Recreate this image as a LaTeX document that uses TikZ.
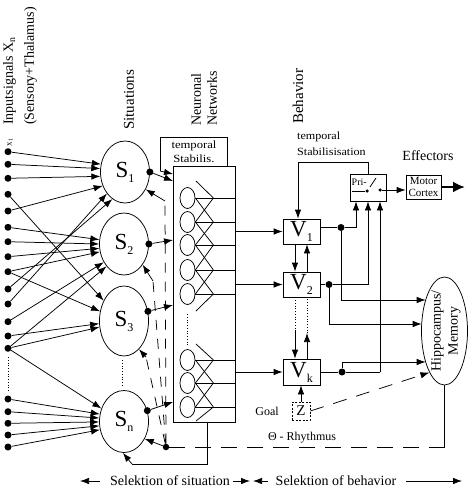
\documentclass[tikz,border=0pt]{standalone}
\usepackage{fontspec}
\setmainfont{Liberation Serif}
\usetikzlibrary{shapes.geometric,arrows.meta,calc}
\newcommand\sublbl[2]{#1\raisebox{-5pt}{\fontsize{12}{12}\selectfont #2}}
\begin{document}
\begin{tikzpicture}[x=1pt,y=-1pt,
  ln/.style={line width=0.75pt},
  arr/.style={ln,-{Latex[length=9pt,width=6.5pt]}},
  dotn/.style={circle,fill,inner sep=0pt,minimum size=7pt},
  sdot/.style={circle,fill,inner sep=0pt,minimum size=7pt},
  smalldot/.style={circle,fill,inner sep=0pt,minimum size=3.5pt},
  sit/.style={ellipse,draw,ln,inner sep=0pt,minimum width=49pt,minimum height=62pt,font=\fontsize{23}{23}\selectfont},
  neur/.style={ellipse,draw,ln,inner sep=0pt,minimum width=15pt,minimum height=21pt},
  vbox/.style={draw,ln,inner sep=0pt,minimum width=37pt,minimum height=25pt,font=\fontsize{23}{23}\selectfont},
  lab/.style={font=\fontsize{14}{17}\selectfont,inner sep=0pt},
  fbdash/.style={ln,dash pattern=on 10pt off 9pt},
  thdash/.style={ln,dash pattern=on 16pt off 10pt},
]
\useasboundingbox (0,0) rectangle (473,490);

% ---- labels on top
\node[rotate=90,anchor=west,align=left,inner sep=0pt,font=\fontsize{14}{21}\selectfont] (inp) at (20,125) {Inputsignals X\textsubscript{n}\\(Sensory+Thalamus)};
\node[rotate=90,inner sep=0pt,font=\fontsize{9}{9}\selectfont] (x1l) at (10,142) {x\textsubscript{1}};
\node[rotate=90,anchor=west,inner sep=0pt,font=\fontsize{15}{17}\selectfont] (sitl) at (129,130) {Situations};
\node[rotate=90,anchor=west,align=left,inner sep=0pt,font=\fontsize{14}{16}\selectfont] (nnl) at (204,126) {Neuronal\\Networks};
\node[rotate=90,anchor=west,inner sep=0pt,font=\fontsize{15}{17}\selectfont] (behl) at (298,124) {Behavior};

% ---- input dots
\foreach \i/\y in {1/151.7,2/164.3,3/178.3,4/194.3,5/211,6/227.3,7/241.7,8/256.7,9/271.7,10/289,11/304,12/321.7,13/336,14/348.3,15/399,16/411.7,17/423.3,18/435,19/447}
  \node[dotn] (x\i) at (8,\y) {};
\draw[ln,dotted] (8,357) -- (8,392);

% ---- situations
\node[sit] (s1) at (125,172) {\sublbl{S}{1}};
\node[sit] (s2) at (124,244) {\sublbl{S}{2}};
\node[sit,minimum height=70pt] (s3) at (124,321) {\sublbl{S}{3}};
\node[sit] (sn) at (124,421.5) {\sublbl{S}{n}};
\draw[ln,dotted] (122,360) -- (122,386);

\foreach \a/\b in {1/s1.162,2/s1.172,3/s1.190,5/s1.212,10/s1.245,11/s1.230,
                   6/s2.170,7/s2.180,8/s2.190,9/s2.198,12/s2.222,14/s2.232,
                   4/s3.135,9/s3.158,13/s3.186,14/s3.194,
                   14/sn.150,15/sn.163,16/sn.172,17/sn.181,18/sn.190,19/sn.199}
  \draw[arr] (x\a) -- (\b);

% ---- neuronal network box
\node[draw,ln,inner sep=0pt,minimum width=62pt,minimum height=256pt] (net) at (204,294) {};
\foreach \i/\y in {1/198,2/222,3/245,4/270,5/294,6/360,7/383,8/407}{
  \node[neur] (n\i) at (187.5,\y) {};
  \draw[ln] (n\i.east) -- (net.east |- n\i.east);
}
\foreach \i/\j in {1/2,2/3,3/4,4/5,6/7,7/8}{
  \draw[ln] (n\i.east) -- ($(n\j.east)+(18,0)$);
  \draw[ln] (n\j.east) -- ($(n\i.east)+(18,0)$);
}
\draw[ln] (196,181) -- ($(n1.east)+(18,0)$);
\draw[ln] (196,311) -- ($(n5.east)+(18,0)$);
\draw[ln] (196,344) -- ($(n6.east)+(18,0)$);
\draw[ln] (196,421) -- ($(n8.east)+(18,0)$);
\draw[ln,dotted] (187.5,314) -- (187.5,345);

% ---- temporal stabilisation of network
\coordinate (tsA) at (227,166);
\coordinate (tsB) at (227,137);
\coordinate (tsC) at (160,137);
\coordinate (tsD) at (160,171);
\coordinate (tsE) at (173,174);
\draw[ln] (tsA) -- (tsB) -- (tsC) -- (tsD);
\draw[arr] (tsD) -- (tsE);
\node[align=center,inner sep=0pt,font=\fontsize{11}{14}\selectfont] (tstxt) at (194,152) {\scalebox{1.15}[1]{temporal}\\\scalebox{1.15}[1]{Stabilis.}};

% ---- situation outputs
\node[sdot] (d1) at (s1.0) {};
\node[sdot] (d2) at (s2.0) {};
\node[sdot] (d3) at (s3.22) {};
\node[sdot] (d4) at (sn.25) {};
\coordinate (e1) at (173,181);
\coordinate (e2) at (173,240);
\coordinate (e3) at (173,305);
\coordinate (e4) at (173,402);
\draw[arr] (d1) -- (e1);
\draw[arr] (d2) -- (e2);
\draw[arr] (d3) -- (e3);
\draw[arr] (d4) -- (e4);

% ---- theta rhythm feedback
\node[sdot,minimum size=6.5pt] (th) at (166,447) {};
\coordinate (c1) at (165,201);
\coordinate (c2) at (153,281);
\coordinate (c3) at (146,357);
\draw[fbdash] (th) -- (c1);
\draw[arr] (c1) -- (s1.-40);
\draw[fbdash] (th) -- (c2);
\draw[arr] (c2) -- (s2.-48);
\draw[fbdash] (th) -- (c3);
\draw[arr] (c3) -- (s3.-62);
\draw[arr] (th) -- (sn.-40);

\coordinate (lb) at (132,464);
\draw[ln] ([xshift=3pt]net.south) |- (lb);
\draw[arr] (lb) -- (sn.268);

% ---- behaviour boxes
\node[vbox] (v1) at (301.5,231.5) {\sublbl{V}{1}};
\node[vbox] (v2) at (301.5,284.5) {\sublbl{V}{2}};
\node[vbox,minimum height=26pt] (vk) at (301.5,372) {\sublbl{V}{k}};
\draw[arr] (v1.west -| net.east) -- (v1.west);
\draw[arr] (v2.west -| net.east) -- (v2.west);
\draw[arr] (vk.west -| net.east) -- (vk.west);

\draw[arr] ([xshift=-6.5pt]v1.south) -- ([xshift=-6.5pt]v2.north);
\draw[arr] ([xshift=5.5pt]v2.north) -- ([xshift=5.5pt]v1.south);
\coordinate (vd1) at (295,331);
\coordinate (vu1) at (307,333);
\draw[ln,dotted] ([xshift=-6.5pt]v2.south) -- (vd1);
\draw[arr] (vd1) -- (vd1 |- vk.north);
\draw[arr] (vk.north -| vu1) -- (vu1);
\draw[ln,dotted] (vu1) -- (vu1 |- v2.south);

% ---- goal
\node[draw,ln,dash pattern=on 2pt off 1.5pt,inner sep=0pt,minimum width=18pt,minimum height=18pt,font=\fontsize{15}{15}\selectfont] (z) at (301,411) {Z};
\draw[arr] (z.north) -- (z.north |- vk.south);
\node[inner sep=0pt,font=\fontsize{12}{14}\selectfont] (goal) at (267,411) {Goal};

% ---- hippocampus
\node[ellipse,draw,ln,inner sep=0pt,minimum width=46pt,minimum height=108pt] (hip) at (444.5,331) {};
\node[rotate=90,align=center,inner sep=0pt,font=\fontsize{14}{17}\selectfont] (hiptxt) at (446,331) {Hippocampus/\\Memory};
\draw[arr,dash pattern=on 14pt off 10pt] (z.east) -- (hip.250);

\draw[thdash] (th) -- (th -| hip.south);
\draw[ln] (th -| hip.south) -- (hip.south);
\node[inner sep=0pt,font=\fontsize{12}{14}\selectfont] (thl) at (302,438) {Θ - Rhythmus};

% ---- priority switch and motor
\node[draw,ln,inner sep=0pt,minimum width=36pt,minimum height=27pt] (pri) at (368,187.5) {};
\node[anchor=west,inner sep=0pt,font=\fontsize{10}{10}\selectfont] (pritxt) at (351.5,182) {Pri-};
\node[smalldot] (sw1) at (367,191) {};
\node[smalldot] (sw2) at (380,190) {};
\draw[ln] (352,191) -- (sw1);
\draw[ln] (370,187) -- (376,178);
\draw[ln] (sw2) -- (pri.east |- sw2);

\node[draw,ln,inner sep=0pt,minimum width=35pt,minimum height=24pt,align=center,font=\fontsize{11}{12}\selectfont] (motor) at (423.5,187) {Motor\\Cortex};
\draw[arr] (pri.east |- sw2) -- (motor.west |- sw2);
\coordinate (eff) at (465,187);
\draw[line width=2.5pt,-{Latex[length=12pt,width=11pt]}] (motor.east) -- (eff);
\node[lab,font=\fontsize{14}{17}\selectfont] (effl) at (428,156) {Effectors};

% ---- outputs of V
\node[sdot] (o1) at (341,227.5) {};
\node[sdot] (o2) at (329,284.5) {};
\node[sdot] (o3) at (342,372) {};
\coordinate (p1) at (356,227.5);
\coordinate (p2) at (368,284.5);
\coordinate (p3) at (380,372);
\draw[ln] ([yshift=4pt]v1.east) -- (o1) -- (p1);
\draw[arr] (p1) -- (p1 |- pri.south);
\draw[ln] (v2.east) -- (o2) -- (p2);
\draw[arr] (p2) -- (p2 |- pri.south);
\draw[ln] (vk.east) -- (o3) -- (p3);
\draw[arr] (p3) -- (p3 |- pri.south);

\coordinate (h1) at (425.7,300);
\coordinate (h2) at (421.7,324);
\coordinate (h3) at (425.7,362);
\draw[ln] (o1) -- (o1 |- h1);
\draw[arr] (o1 |- h1) -- (h1);
\draw[ln] (o2) -- (o2 |- h2);
\draw[arr] (o2 |- h2) -- (h2);
\draw[ln] (o3) -- (o3 |- h3);
\draw[arr] (o3 |- h3) -- (h3);

% ---- temporal stabilisation of behaviour
\coordinate (ts2) at (298,162);
\draw[ln] (pri.north) |- (ts2);
\draw[arr] (ts2) -- (ts2 |- v1.north);
\node[anchor=west,inner sep=0pt,font=\fontsize{11}{13}\selectfont] (tsl1) at (297,137) {\scalebox{1.1}[1]{temporal}};
\node[anchor=west,inner sep=0pt,font=\fontsize{11}{13}\selectfont] (tsl2) at (297,152) {\scalebox{1.1}[1]{Stabilisisation}};

% ---- bottom
\node[lab] (sel1) at (170,481) {Selektion of situation};
\node[lab] (sel2) at (336,481) {Selektion of behavior};
\coordinate (a1) at (80,481);
\coordinate (a2) at (250,481);
\coordinate (a3) at (253,481);
\coordinate (a4) at (462,481);
\draw[arr] ([xshift=-10pt]sel1.west) -- (a1);
\draw[arr] ([xshift=3pt]sel1.east) -- (a2);
\draw[arr] ([xshift=-8pt]sel2.west) -- (a3);
\draw[arr] ([xshift=10pt]sel2.east) -- (a4);
\end{tikzpicture}
\end{document}
